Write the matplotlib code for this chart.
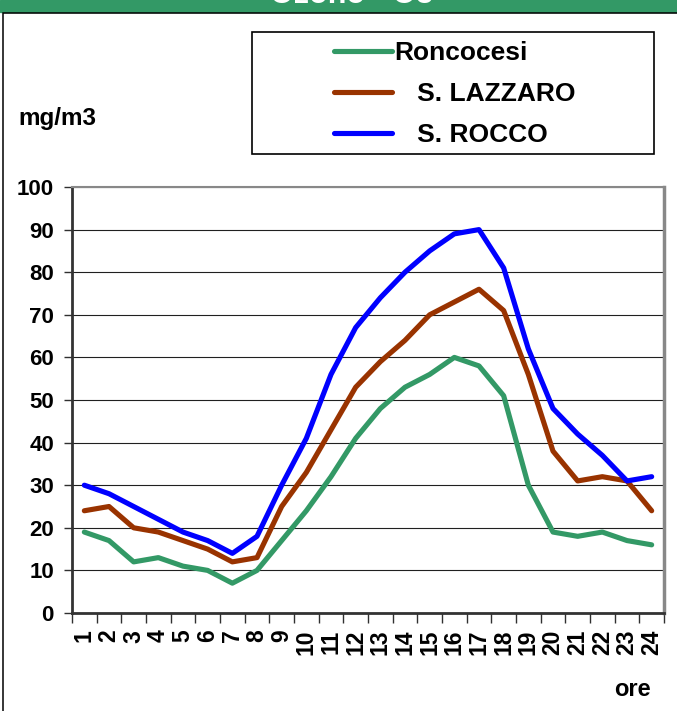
import numpy as np
import matplotlib.pyplot as plt
from matplotlib.patches import Rectangle

hours = list(range(1, 25))
roncocesi = [19, 17, 12, 13, 11, 10, 7, 10, 17, 24, 32, 41, 48, 53, 56, 60, 58, 51, 30, 19, 18, 19, 17, 16]
lazzaro = [24, 25, 20, 19, 17, 15, 12, 13, 25, 33, 43, 53, 59, 64, 70, 73, 76, 71, 56, 38, 31, 32, 31, 24]
rocco = [30, 28, 25, 22, 19, 17, 14, 18, 30, 41, 56, 67, 74, 80, 85, 89, 90, 81, 62, 48, 42, 37, 31, 32]
names = ['Roncocesi', '   S. LAZZARO', '   S. ROCCO']
colors = ['#339966', '#993300', '#0000ff']

plt.rcParams['font.family'] = ['Liberation Sans', 'DejaVu Sans']
plt.rcParams['font.weight'] = 'bold'

W, H = 677, 711
fig = plt.figure(figsize=(W / 100, H / 100), dpi=100)


def fx(px):
    return px / W


def fy(py):
    return 1 - py / H


# green banner + outer box (title is cut at the top edge like in the original)
fig.patches.append(Rectangle((0, fy(12)), 1, 12 / H, transform=fig.transFigure,
                             color='#339966', zorder=0))
fig.patches.append(Rectangle((fx(3), -0.1), 1.2, fy(13) + 0.1, transform=fig.transFigure,
                             fill=False, ec='black', lw=1.1, zorder=1))
fig.text(fx(352), fy(3), 'Ozono - O3', color='white', fontsize=22,
         weight='bold', ha='center', va='baseline')

ax = fig.add_axes([fx(72), fy(613), fx(664) - fx(72), fy(187) - fy(613)])
for vals, name, c in zip([roncocesi, lazzaro, rocco], names, colors):
    ax.plot(hours, vals, color=c, lw=3.7, label=name,
            solid_capstyle='round', solid_joinstyle='round')

ax.set_xlim(0.5, 24.5)
ax.set_ylim(0, 100)
ax.set_yticks(range(0, 101, 10))
ax.yaxis.grid(True, color='#202020', lw=0.8)
ax.set_axisbelow(True)
ax.set_xticks(hours)
ax.set_xticklabels([str(h) for h in hours], rotation=90)
ax.set_xticks(np.arange(0.5, 25, 1), minor=True)
ax.tick_params(axis='x', which='major', length=0, pad=12, labelsize=16.5)
ax.tick_params(axis='x', which='minor', length=7, width=1, color='#303030')
ax.tick_params(axis='y', length=6, width=1, pad=7, labelsize=16, color='#303030')
for s in ['left', 'bottom']:
    ax.spines[s].set_color('#333333')
    ax.spines[s].set_linewidth(2)
ax.spines['top'].set_color('#888888')
ax.spines['top'].set_linewidth(1.5)
ax.spines['right'].set_color('#888888')
ax.spines['right'].set_linewidth(2.5)

fig.text(fx(18), fy(125), 'mg/m3', fontsize=17.5, weight='bold', ha='left', va='baseline')
fig.text(fx(651), fy(696), 'ore', fontsize=17, weight='bold', ha='right', va='baseline')

# legend with separate frame
fig.patches.append(Rectangle((fx(252), fy(154)), (654 - 252) / W, (154 - 32) / H,
                             transform=fig.transFigure, fill=False, ec='black', lw=1.2))
leg = ax.legend(loc='upper left', bbox_to_anchor=(fx(334), fy(41.5)),
                bbox_transform=fig.transFigure, frameon=False, borderpad=0,
                borderaxespad=0, handlelength=2.18, handletextpad=0.12,
                labelspacing=0.63, prop={'size': 19, 'weight': 'bold'})
for line in leg.get_lines():
    line.set_linewidth(3.7)

fig.savefig('out.png', dpi=100)
